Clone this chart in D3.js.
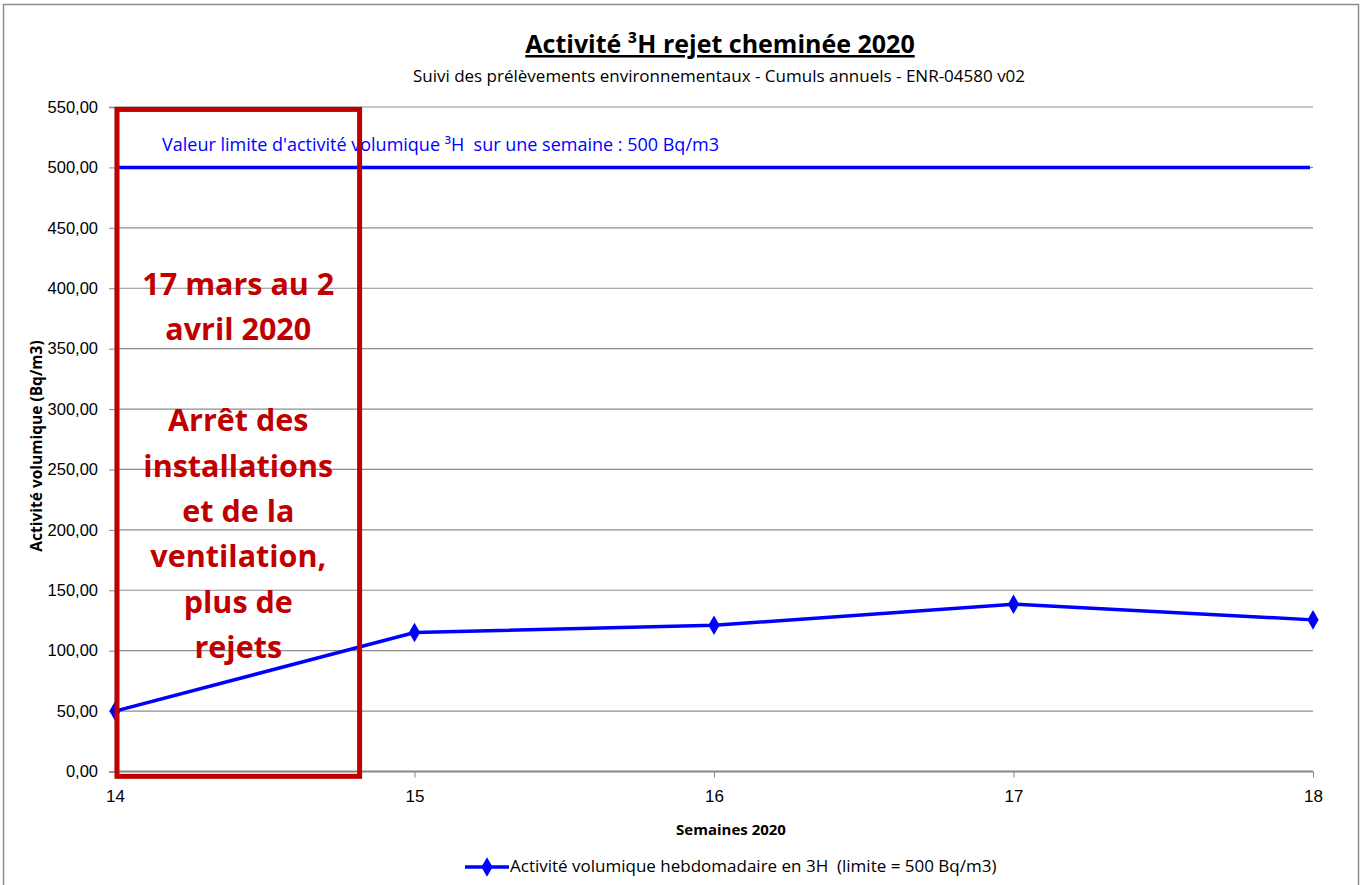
<!DOCTYPE html>
<html>
<head>
<meta charset="utf-8">
<script src="https://cdn.jsdelivr.net/npm/d3@7"></script>
<style>
  body { margin: 0; background: #fff; }
  svg { font-family: "Open Sans", sans-serif; }
</style>
</head>
<body>
<script>
// weekly data
const weeks = [14, 15, 16, 17, 18];
const activity = [50, 115, 121, 138.5, 125.5];
const limitValue = 500;
const yTicks = [0, 50, 100, 150, 200, 250, 300, 350, 400, 450, 500, 550];

// annotation box (in data units) and its text
const shutdownBox = { x0: 14, x1: 14.81, y0: -4, y1: 548 };
const shutdownLines = ["17 mars au 2", "avril 2020", "", "Arrêt des", "installations", "et de la", "ventilation,", "plus de", "rejets"];

const width = 1364;
const height = 885;
const margin = { top: 107, right: 51, bottom: 113.5, left: 115 };

let svg = d3.select("body")
    .append("svg")
    .attr("width", width)
    .attr("height", height);

// outer chart border
svg.append("rect")
    .attr("x", 3.5)
    .attr("y", 4.5)
    .attr("width", 1355)
    .attr("height", 890)
    .attr("fill", "none")
    .attr("stroke", "#8c8c8c")
    .attr("stroke-width", 1.5);

let xScale = d3.scaleLinear()
    .domain([14, 18])
    .range([margin.left, width - margin.right]);

let yScale = d3.scaleLinear()
    .domain([0, 550])
    .range([height - margin.bottom, margin.top]);

// gridlines
svg.append("g")
    .selectAll("line")
    .data(yTicks)
    .join("line")
    .attr("x1", margin.left)
    .attr("x2", width - margin.right)
    .attr("y1", d => yScale(d))
    .attr("y2", d => yScale(d))
    .attr("stroke", d => d === 0 ? "#868686" : "#8e8e8e")
    .attr("stroke-width", d => d === 0 ? 2 : 1.2);

// left axis
let leftAxis = d3.axisLeft(yScale)
    .tickValues(yTicks)
    .tickSize(6)
    .tickPadding(11)
    .tickFormat(d => d3.format(".2f")(d).replace(".", ","));

let leftContainer = svg.append("g")
    .attr("transform", `translate(${margin.left}, 0)`)
    .call(leftAxis);
leftContainer.select(".domain").attr("stroke", "#868686").attr("stroke-width", 1.5);
leftContainer.selectAll(".tick line").attr("stroke", "#868686");
leftContainer.selectAll(".tick text")
    .style("font-size", "16.5px")
    .attr("fill", "#000");

// bottom axis
let bottomAxis = d3.axisBottom(xScale)
    .tickValues(weeks)
    .tickSize(6)
    .tickPadding(12)
    .tickFormat(d3.format("d"));

let bottomContainer = svg.append("g")
    .attr("transform", `translate(0, ${yScale(0)})`)
    .call(bottomAxis);
bottomContainer.select(".domain").remove();
bottomContainer.selectAll(".tick line").attr("stroke", "#868686");
bottomContainer.selectAll(".tick text")
    .style("font-size", "17px")
    .attr("fill", "#000");

// limit line
svg.append("line")
    .attr("x1", xScale(14))
    .attr("x2", xScale(17.99))
    .attr("y1", yScale(limitValue))
    .attr("y2", yScale(limitValue))
    .attr("stroke", "#0000ff")
    .attr("stroke-width", 3.5);

svg.append("text")
    .attr("x", 162)
    .attr("y", yScale(limitValue) - 16)
    .attr("fill", "#0000ff")
    .style("font-size", "18px")
    .attr("xml:space", "preserve")
    .text("Valeur limite d'activité volumique ³H  sur une semaine : 500 Bq/m3");

// series
let series = weeks.map((w, i) => ({ week: w, value: activity[i] }));

svg.append("path")
    .datum(series)
    .attr("fill", "none")
    .attr("stroke", "#0000ff")
    .attr("stroke-width", 3.5)
    .attr("d", d3.line().x(d => xScale(d.week)).y(d => yScale(d.value)));

let diamond = d3.symbol().type(d3.symbolDiamond).size(110);

svg.append("g")
    .selectAll("path")
    .data(series)
    .join("path")
    .attr("d", diamond)
    .attr("transform", d => `translate(${xScale(d.week)}, ${yScale(d.value)})`)
    .attr("fill", "#0000ff");

// red annotation box
svg.append("rect")
    .attr("x", xScale(shutdownBox.x0) + 2)
    .attr("y", yScale(shutdownBox.y1))
    .attr("width", xScale(shutdownBox.x1) - xScale(shutdownBox.x0))
    .attr("height", yScale(shutdownBox.y0) - yScale(shutdownBox.y1))
    .attr("fill", "none")
    .attr("stroke", "#c00000")
    .attr("stroke-width", 5);

let boxCenter = xScale(shutdownBox.x0) + 2 + (xScale(shutdownBox.x1) - xScale(shutdownBox.x0)) / 2;

svg.append("g")
    .selectAll("text")
    .data(shutdownLines)
    .join("text")
    .attr("x", boxCenter)
    .attr("y", (d, i) => 295 + i * 45.4)
    .attr("text-anchor", "middle")
    .attr("fill", "#c00000")
    .style("font-size", "30.5px")
    .style("font-weight", "bold")
    .text(d => d);

// titles
svg.append("text")
    .attr("x", 720)
    .attr("y", 53)
    .attr("text-anchor", "middle")
    .style("font-size", "25px")
    .style("font-weight", "bold")
    .style("text-decoration", "underline")
    .text("Activité ³H rejet cheminée 2020");

svg.append("text")
    .attr("x", 719)
    .attr("y", 82)
    .attr("text-anchor", "middle")
    .style("font-size", "17px")
    .text("Suivi des prélèvements environnementaux - Cumuls annuels - ENR-04580 v02");

svg.append("text")
    .text("Activité volumique (Bq/m3)")
    .style("font-size", "15.5px")
    .style("font-weight", "bold")
    .attr("text-anchor", "middle")
    .attr("transform", `translate(42, 446) rotate(270)`);

svg.append("text")
    .text("Semaines 2020")
    .attr("x", 731)
    .attr("y", 835)
    .attr("text-anchor", "middle")
    .style("font-size", "15px")
    .style("font-weight", "bold");

// legend
let legend = svg.append("g").attr("transform", "translate(465, 867)");
legend.append("line")
    .attr("x1", 0).attr("x2", 44)
    .attr("stroke", "#0000ff")
    .attr("stroke-width", 3.5);
legend.append("path")
    .attr("d", diamond)
    .attr("transform", "translate(22, 0)")
    .attr("fill", "#0000ff");
legend.append("text")
    .attr("x", 45)
    .attr("y", 5)
    .style("font-size", "17px")
    .attr("xml:space", "preserve")
    .text("Activité volumique hebdomadaire en 3H  (limite = 500 Bq/m3)");
</script>
</body>
</html>
